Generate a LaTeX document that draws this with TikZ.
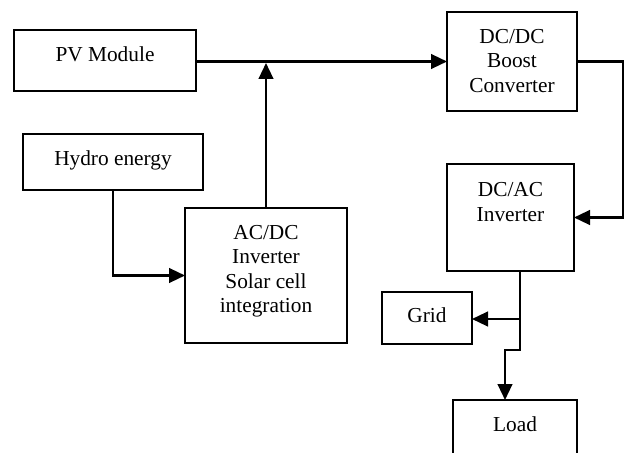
\documentclass[tikz,border=0pt]{standalone}
\usepackage{fontspec}
\setmainfont{Liberation Serif}
\usetikzlibrary{arrows.meta}
\begin{document}
\begin{tikzpicture}[x=0.75pt,y=-0.75pt,
  box/.style 2 args={draw, line width=1.5pt, inner sep=0pt, outer sep=0pt, minimum width=0.75pt*#1, minimum height=0.75pt*#2},
  txt/.style={anchor=base, inner sep=0pt, font=\fontsize{16}{18.4}\selectfont},
  conn/.style={line width=1.7pt},
  arr/.style={conn, -{Triangle[length=12pt,width=11pt]}}]
\useasboundingbox (0,0) rectangle (625,453);
\clip (0,0) rectangle (625,453);
% boxes
\node[box={182}{61}] (pv) at (105,60.5) {};
\node[box={180}{56}] (hydro) at (113,162) {};
\node[box={162}{135}] (acdc) at (266,275.5) {};
\node[box={130}{99}] (dcdc) at (512,61.5) {};
\node[box={127}{107}] (dcac) at (510.5,217.5) {};
\node[box={90}{52}] (grid) at (427,318) {};
\node[box={124}{80}] (load) at (515,440) {};
% texts
\node[txt] (pvt) at (105,62) {PV Module};
\node[txt] (hydrot) at (113,165.7) {Hydro energy};
\node[txt] (acdct) at (266,239.3) {\begin{tabular}[t]{@{}c@{}}AC/DC\\Inverter\\Solar cell\\integration\end{tabular}};
\node[txt] (dcdct) at (512,43.3) {\begin{tabular}[t]{@{}c@{}}DC/DC\\Boost\\Converter\end{tabular}};
\node[txt] (dcact) at (510.5,196.7) {\begin{tabular}[t]{@{}c@{}}DC/AC\\Inverter\end{tabular}};
\node[txt] (gridt) at (427,322.7) {Grid};
\node[txt] (loadt) at (515,431.7) {Load};
% junctions
\coordinate (j1) at (266,63);
\coordinate (j2) at (520,319);
\coordinate (j3) at (505,350);
\coordinate (j4) at (623,0);
% connectors
\draw[arr] (pv.east |- dcdc.west) -- (dcdc.west);
\draw[arr] (acdc.north -| j1) -- (j1);
\draw[arr] (hydro.south) |- (acdc.west);
\draw[arr] (dcdc.east) -- (j4 |- dcdc.east) |- (dcac.east);
\draw[conn] (dcac.south -| j2) -- (j2);
\draw[arr] (j2) -- (grid.east |- j2);
\draw[arr] (j2) -- (j2 |- j3) -- (j3) -- (j3 |- load.north);
\end{tikzpicture}
\end{document}
